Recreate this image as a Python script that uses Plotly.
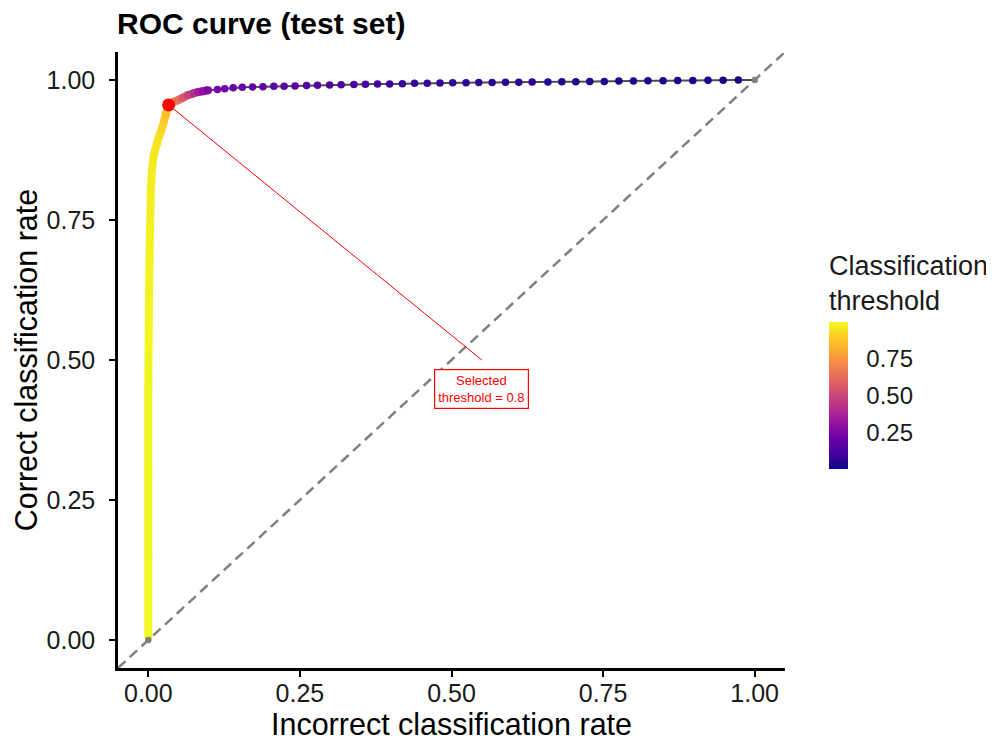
import plotly.graph_objects as go
from plotly.colors import sample_colorscale

# ---- data ----
# ROC points ordered by decreasing classification threshold
fpr = [0.000, 0.000, 0.000, 0.000, 0.001, 0.002, 0.003, 0.004, 0.006, 0.009,
       0.014, 0.018, 0.023, 0.029, 0.0335,
       0.038, 0.043, 0.049, 0.057, 0.0655, 0.074, 0.082, 0.090, 0.0985,
       0.114, 0.126, 0.140, 0.155, 0.172, 0.189, 0.207, 0.224, 0.242, 0.261,
       0.279, 0.299, 0.318, 0.339, 0.358, 0.378, 0.398, 0.419, 0.439, 0.460,
       0.481, 0.502, 0.524, 0.545, 0.567, 0.589, 0.611, 0.633, 0.659, 0.682,
       0.705, 0.728, 0.752, 0.776, 0.800, 0.824, 0.849, 0.873, 0.898, 0.923,
       0.948, 0.973]
tpr = [0.005, 0.150, 0.300, 0.450, 0.600, 0.680, 0.740, 0.800, 0.840, 0.866,
       0.886, 0.900, 0.915, 0.939, 0.9555,
       0.959, 0.9615, 0.964, 0.9685, 0.973, 0.976, 0.9786, 0.980, 0.9817,
       0.983, 0.9845, 0.986, 0.987, 0.9875, 0.988, 0.989, 0.989, 0.9895, 0.990,
       0.9905, 0.991, 0.9915, 0.992, 0.9925, 0.993, 0.993, 0.9935, 0.994, 0.994,
       0.9945, 0.995, 0.995, 0.9955, 0.9955, 0.996, 0.996, 0.9965, 0.9965, 0.997,
       0.997, 0.9975, 0.9975, 0.998, 0.998, 0.9985, 0.9985, 0.999, 0.999, 0.9995,
       0.9995, 1.000]
threshold = [1.000, 0.998, 0.996, 0.994, 0.990, 0.985, 0.980, 0.975, 0.970, 0.960,
             0.950, 0.935, 0.910, 0.860, 0.800,
             0.740, 0.690, 0.630, 0.560, 0.490, 0.420, 0.350, 0.300, 0.260,
             0.230, 0.215, 0.200, 0.190, 0.180, 0.170, 0.162, 0.155, 0.148, 0.141,
             0.135, 0.129, 0.123, 0.117, 0.111, 0.105, 0.099, 0.093, 0.088, 0.083,
             0.078, 0.074, 0.070, 0.066, 0.062, 0.058, 0.055, 0.052, 0.048, 0.045,
             0.042, 0.039, 0.036, 0.033, 0.030, 0.028, 0.025, 0.022, 0.020, 0.017,
             0.014, 0.011]
# end points of the curve (threshold undefined -> grey)
end_fpr = [0.0, 1.0]
end_tpr = [0.0, 1.0]

selected_threshold = 0.8
label_pos = [0.55, 0.448]
label_seg_end = [0.55, 0.50]

tick_vals = [0, 0.25, 0.5, 0.75, 1.0]
tick_text = ["0.00", "0.25", "0.50", "0.75", "1.00"]
cbar_vals = [0.25, 0.5, 0.75]
cbar_text = ["0.25", "0.50", "0.75"]

FONT = "Liberation Sans, Arial, Helvetica, sans-serif"
DENSE = 0.25  # points with threshold above this overlap into a solid band

# page body has an 8px margin -> compensate in the figure margins
OFF = 8
W, H = 994, 742
ML, MT = 118 - OFF, 52 - OFF
PW, PH = 667, 616
MR, MB = W - ML - PW, H - MT - PH

fig = go.Figure()

# diagonal reference
fig.add_shape(type="line", xref="x", yref="y", x0=-0.05, y0=-0.05, x1=1.05, y1=1.05,
              line=dict(color="#808080", width=2.5, dash="10px,6px"), layer="below")

# thin path through all points
fig.add_trace(go.Scatter(x=[end_fpr[0]] + fpr + [end_fpr[1]],
                         y=[end_tpr[0]] + tpr + [end_tpr[1]],
                         mode="lines", line=dict(color="#4d4d4d", width=2),
                         hoverinfo="skip", showlegend=False))

# dense (overlapping) part as thick coloured segments
for i in range(len(fpr) - 1):
    if threshold[i + 1] >= DENSE:
        c = sample_colorscale("Plasma", [(threshold[i] + threshold[i + 1]) / 2])[0]
        fig.add_trace(go.Scatter(x=[fpr[i], fpr[i + 1]], y=[tpr[i], tpr[i + 1]],
                                 mode="lines", line=dict(color=c, width=8),
                                 hoverinfo="skip", showlegend=False))

sizes = [8 if t >= DENSE else 7.5 for t in threshold]
fig.add_trace(go.Scatter(
    x=fpr, y=tpr, mode="markers", showlegend=False,
    marker=dict(color=threshold, colorscale="Plasma", cmin=0, cmax=1, size=sizes,
                line=dict(width=0), opacity=1,
                colorbar=dict(
                    x=1.066, xanchor="left", y=(668 - 469) / 616,
                    yanchor="bottom",
                    len=217, lenmode="pixels", thickness=19, thicknessmode="pixels",
                    outlinewidth=0, xpad=0, ypad=0,
                    tickvals=cbar_vals, ticktext=cbar_text,
                    ticks="outside", ticklen=14, tickcolor="rgba(0,0,0,0)",
                    tickfont=dict(size=24, color="#1a1a1a", family=FONT),
                    title=dict(text="Classification<br>threshold", side="top",
                               font=dict(size=27, color="#1a1a1a", family=FONT)))),
))

# grey end points
fig.add_trace(go.Scatter(x=end_fpr, y=end_tpr, mode="markers",
                         marker=dict(color="#808080", size=6.5),
                         hoverinfo="skip", showlegend=False))

# selected threshold
idx = threshold.index(selected_threshold)
sx, sy = fpr[idx], tpr[idx]
fig.add_shape(type="line", xref="x", yref="y", x0=sx, y0=sy,
              x1=label_seg_end[0], y1=label_seg_end[1],
              line=dict(color="red", width=1))
fig.add_trace(go.Scatter(x=[sx], y=[sy], mode="markers",
                         marker=dict(color="red", size=13),
                         hoverinfo="skip", showlegend=False))
fig.add_annotation(x=label_pos[0], y=label_pos[1], xref="x", yref="y",
                   text="Selected<br>threshold = %.1f" % selected_threshold,
                   showarrow=False, font=dict(color="red", size=13, family=FONT),
                   bgcolor="white", bordercolor="red", borderwidth=1.2, borderpad=3)

axis_common = dict(range=[-0.05, 1.05], showline=True, linecolor="black", linewidth=2.5,
                   ticks="outside", ticklen=6, tickwidth=2, tickcolor="black",
                   tickvals=tick_vals, ticktext=tick_text,
                   tickfont=dict(size=25, color="#1a1a1a", family=FONT),
                   showgrid=False, zeroline=False, automargin=False)

fig.update_layout(
    width=W, height=H,
    margin=dict(l=ML, r=MR, t=MT, b=MB),
    plot_bgcolor="white", paper_bgcolor="white",
    font=dict(family=FONT, color="black"),
    title=dict(text="<b>ROC curve (test set)</b>", xref="container", yref="container",
               x=(117 - OFF) / W, xanchor="left", y=1 - (23 - OFF) / H, yanchor="middle",
               font=dict(size=30, color="black", family=FONT)),
    xaxis=dict(**axis_common, ticklabelstandoff=-5,
               title=dict(text="Incorrect classification rate", standoff=0,
                          font=dict(size=30.5, color="black", family=FONT))),
    yaxis=dict(**axis_common, ticklabelstandoff=9,
               title=dict(text="Correct classification rate", standoff=0,
                          font=dict(size=30.5, color="black", family=FONT))),
)

fig.write_html("out.html")
